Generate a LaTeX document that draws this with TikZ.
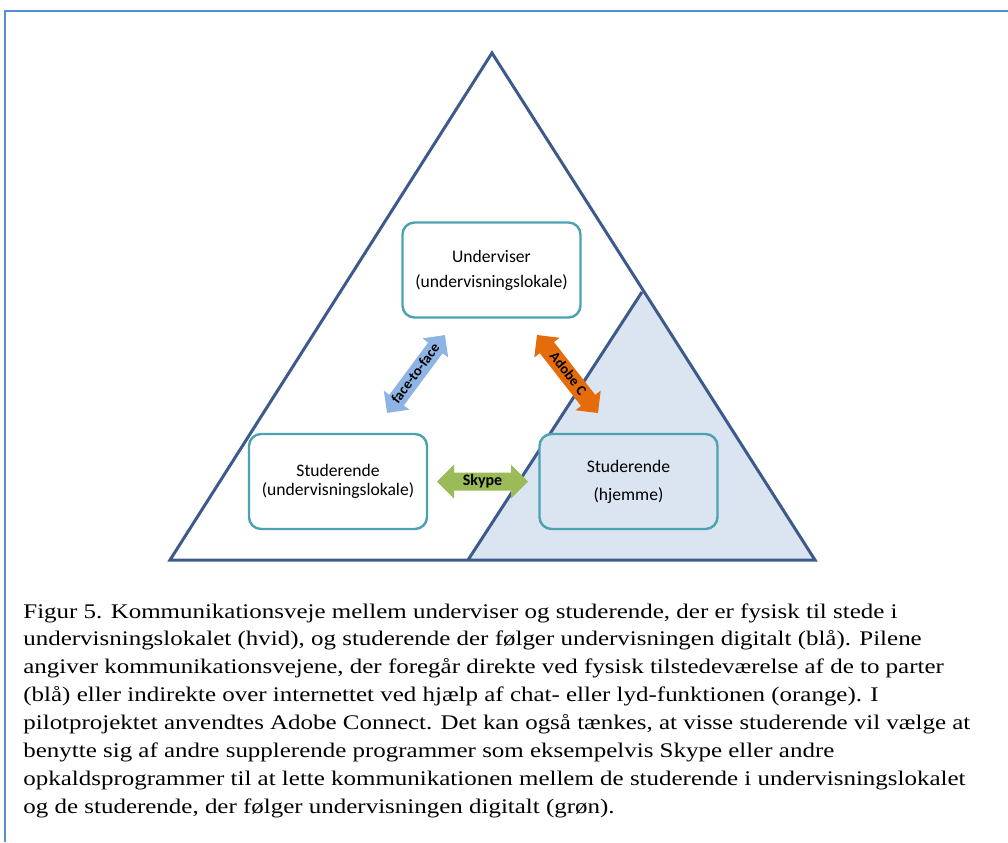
\documentclass[tikz,border=0pt]{standalone}
\usepackage{fontspec}
\setmainfont{Liberation Serif}
\newfontfamily\boxfont{Carlito}
\newfontfamily\capfont[FakeStretch=1.2]{Liberation Serif}
\usetikzlibrary{shapes.arrows}
\definecolor{triline}{RGB}{60,90,140}
\definecolor{trifill}{RGB}{219,228,241}
\definecolor{boxline}{RGB}{75,163,178}
\definecolor{frameblue}{RGB}{85,142,213}
\definecolor{facearrow}{RGB}{142,180,227}
\definecolor{adobearrow}{RGB}{228,108,10}
\definecolor{skypearrow}{RGB}{155,187,89}
\begin{document}
\begin{tikzpicture}[x=0.5pt,y=-0.5pt,
    place/.style={draw=boxline,line width=1.2pt,rounded corners=6pt,
      minimum width=89pt,minimum height=47.5pt,align=center,
      font=\boxfont\fontsize{8.8}{10.5}\selectfont},
    link/.style={double arrow,double arrow head extend=3.5pt,
      inner xsep=1pt,inner ysep=0.8pt,text height=5.5pt,text depth=1.5pt,
      minimum height=#1,font=\boxfont\bfseries\fontsize{7.2}{8}\selectfont}
  ]
  \useasboundingbox (0,0) rectangle (1008,842);
  \draw[frameblue,line width=1.3pt] (1008,11) -- (5,11) -- (5,842);

  % the two triangles
  \coordinate (apex) at (492,53);
  \coordinate (left) at (170,560);
  \coordinate (right) at (815,560);
  \coordinate (homeapex) at (642,292);
  \coordinate (homefoot) at (468,560);
  \fill[trifill] (homeapex) -- (right) -- (homefoot) -- cycle;
  \draw[triline,line width=1.5pt] (apex) -- (right) -- (left) -- cycle;
  \draw[triline,line width=1.5pt] (homeapex) -- (homefoot);

  % the three parties
  \node[place,fill=white] (teacher) at (491.5,270) {Underviser\\[2pt](undervisningslokale)};
  \node[place,fill=white] (classroom) at (338,481.5) {Studerende\\[-1pt](undervisningslokale)};
  \node[place,fill=trifill] (home) at (628.5,481.5) {Studerende\\[3.5pt](hjemme)};

  % the ways of talking
  \node[link=48.5pt,fill=facearrow,rotate=53.4] (facetoface) at (416,374) {face-to-face};
  \node[link=49.5pt,fill=adobearrow,rotate=-52] (adobe) at (567.5,374) {Adobe C};
  \node[link=45.5pt,fill=skypearrow,double arrow head extend=4pt,
    font=\boxfont\bfseries\fontsize{8}{9}\selectfont] (skype) at (482.5,481.5) {Skype};

  \node[anchor=north west,inner sep=0pt,align=left,
    font=\capfont\fontsize{10.4}{13.95}\selectfont] (caption) at (23,603)
    {Figur 5. Kommunikationsveje mellem underviser og studerende, der er fysisk til stede i\\
     undervisningslokalet (hvid), og studerende der følger undervisningen digitalt (blå). Pilene\\
     angiver kommunikationsvejene, der foregår direkte ved fysisk tilstedeværelse af de to parter\\
     (blå) eller indirekte over internettet ved hjælp af chat- eller lyd-funktionen (orange). I\\
     pilotprojektet anvendtes Adobe Connect. Det kan også tænkes, at visse studerende vil vælge at\\
     benytte sig af andre supplerende programmer som eksempelvis Skype eller andre\\
     opkaldsprogrammer til at lette kommunikationen mellem de studerende i undervisningslokalet\\
     og de studerende, der følger undervisningen digitalt (grøn).};
\end{tikzpicture}
\end{document}
